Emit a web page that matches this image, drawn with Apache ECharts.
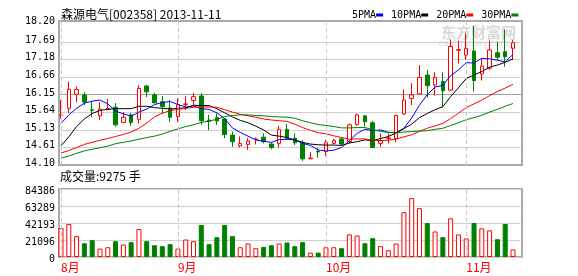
<!DOCTYPE html>
<html><head><meta charset="utf-8">
<script src="https://cdn.jsdelivr.net/npm/echarts@6/dist/echarts.min.js"></script>
<style>html,body{margin:0;padding:0;background:#fff}#c{width:578px;height:276px}</style>
</head><body><div id="c"></div>
<script>
const stockName = '森源电气';
const stockCode = '002358';
const chartDate = '2013-11-11';

const dates = [
 '2013-08-12','2013-08-13','2013-08-14','2013-08-15','2013-08-16','2013-08-19','2013-08-20','2013-08-21','2013-08-22','2013-08-23',
 '2013-08-26','2013-08-27','2013-08-28','2013-08-29','2013-08-30','2013-09-02','2013-09-03','2013-09-04','2013-09-05','2013-09-06',
 '2013-09-09','2013-09-10','2013-09-11','2013-09-12','2013-09-13','2013-09-16','2013-09-17','2013-09-18','2013-09-23','2013-09-24',
 '2013-09-25','2013-09-26','2013-09-27','2013-09-30','2013-10-08','2013-10-09','2013-10-10','2013-10-11','2013-10-14','2013-10-15',
 '2013-10-16','2013-10-17','2013-10-18','2013-10-21','2013-10-22','2013-10-23','2013-10-24','2013-10-25','2013-10-28','2013-10-29',
 '2013-10-30','2013-10-31','2013-11-01','2013-11-04','2013-11-05','2013-11-06','2013-11-07','2013-11-08','2013-11-11'
];
const open = [15.54,15.75,16.16,16.14,15.71,15.53,15.73,15.78,15.34,15.56,
 15.43,16.40,16.14,15.94,15.76,15.51,15.86,15.98,16.11,15.41,
 15.48,15.44,14.97,14.66,14.70,14.84,14.91,14.71,14.73,15.14,
 14.88,14.73,14.28,14.50,14.49,14.73,14.86,14.78,15.28,15.53,
 15.33,14.73,14.87,14.86,15.59,16.04,16.17,16.72,16.43,16.53,
 16.28,17.44,17.30,17.42,16.75,16.92,17.37,17.40,17.50];
const close = [15.55,16.31,16.30,15.93,15.69,15.73,15.75,15.27,15.49,15.34,
 16.33,16.23,15.91,15.80,15.49,15.85,15.88,16.09,15.39,15.37,
 15.38,14.99,14.78,14.73,14.80,14.86,14.78,14.61,15.14,14.88,
 14.75,14.28,14.30,14.48,14.76,14.81,14.71,15.27,15.56,15.36,
 14.61,14.81,14.89,15.54,15.99,16.14,16.65,16.41,16.65,16.26,
 17.55,17.46,17.50,16.56,16.98,17.45,17.24,17.25,17.66];
const low = [15.45,15.61,15.92,15.85,15.49,15.41,15.72,15.22,15.34,15.24,
 15.31,16.08,15.90,15.59,15.36,15.36,15.70,15.85,15.27,15.12,
 15.27,14.88,14.63,14.61,14.54,14.70,14.73,14.56,14.61,14.83,
 14.68,14.22,14.28,14.31,14.37,14.70,14.68,14.73,15.24,15.22,
 14.59,14.63,14.73,14.76,15.56,15.85,16.14,16.06,16.12,15.78,
 16.26,17.06,17.16,16.24,16.56,16.87,17.16,16.96,17.16];
const high = [15.99,16.53,16.38,16.22,15.96,15.93,16.02,15.90,15.64,15.61,
 16.43,16.43,16.20,16.11,15.99,16.04,16.11,16.19,16.19,15.56,
 15.60,15.46,15.07,14.93,14.88,14.90,15.02,14.75,15.24,15.29,
 15.02,14.83,14.47,14.59,14.83,14.86,14.90,15.31,15.60,15.56,
 15.38,15.02,15.02,15.56,16.30,16.48,17.01,16.87,16.80,16.80,
 17.76,17.72,17.94,18.15,17.21,17.72,17.69,18.05,17.74];
const volume = [35900,40900,25900,17100,20900,10400,12100,19600,15500,18400,
 34700,19600,14600,13400,15900,10400,21700,19600,39700,15900,
 24600,39700,25900,12100,16700,10900,12500,14600,16700,18000,
 13400,18400,5400,5400,12100,12100,10900,28000,26700,17100,
 23400,13400,8400,16700,55600,73100,60600,42200,31700,24600,
 48000,28000,23000,42200,35500,33000,22100,40900,9275];
const ma5 = [15.31,15.56,15.75,15.90,15.96,15.99,15.88,15.67,15.59,15.52,
 15.64,15.73,15.86,15.92,15.95,15.86,15.79,15.82,15.74,15.72,
 15.62,15.45,15.18,15.05,14.94,14.83,14.79,14.76,14.84,14.85,
 14.83,14.73,14.67,14.54,14.51,14.53,14.61,14.81,15.02,15.14,
 15.10,15.12,15.05,15.04,15.17,15.47,15.84,16.15,16.37,16.42,
 16.70,16.87,17.08,17.07,17.21,17.19,17.15,17.10,17.32];
const ma10 = [14.66,14.92,15.22,15.44,15.60,15.69,15.72,15.74,15.74,15.74,
 15.81,15.81,15.77,15.75,15.73,15.75,15.76,15.84,15.83,15.83,
 15.74,15.62,15.50,15.40,15.33,15.23,15.12,14.97,14.94,14.90,
 14.83,14.76,14.71,14.69,14.68,14.68,14.67,14.74,14.78,14.83,
 14.81,14.87,14.93,15.03,15.16,15.29,15.48,15.60,15.71,15.80,
 16.09,16.35,16.62,16.72,16.82,16.95,17.01,17.09,17.19];
const ma20 = [14.45,14.52,14.61,14.70,14.76,14.82,14.87,14.93,14.99,15.06,
 15.17,15.32,15.50,15.61,15.68,15.72,15.75,15.78,15.79,15.79,
 15.78,15.71,15.64,15.58,15.53,15.49,15.44,15.41,15.39,15.37,
 15.29,15.19,15.11,15.04,15.01,14.95,14.90,14.85,14.86,14.86,
 14.82,14.81,14.82,14.86,14.92,14.98,15.08,15.17,15.24,15.31,
 15.45,15.61,15.77,15.88,15.99,16.12,16.24,16.34,16.45];
const ma30 = [14.30,14.36,14.44,14.51,14.56,14.60,14.65,14.72,14.76,14.80,
 14.85,14.90,14.94,15.00,15.08,15.15,15.22,15.27,15.34,15.38,
 15.43,15.51,15.54,15.56,15.56,15.54,15.53,15.51,15.50,15.49,
 15.46,15.39,15.33,15.28,15.25,15.22,15.18,15.18,15.19,15.19,
 15.13,15.08,15.05,15.04,15.06,15.07,15.09,15.10,15.14,15.17,
 15.25,15.33,15.42,15.48,15.55,15.64,15.72,15.81,15.89];

const priceTickLabels = ['14.10','14.61','15.13','15.64','16.15','16.66','17.18','17.69','18.20'];
const volTickLabels = ['0','21096','42193','63289','84386'];
const maNames = ['5PMA','10PMA','20PMA','30PMA'];
const maColors = ['#0000ff','#000000','#ff0000','#008000'];
const maData = [ma5, ma10, ma20, ma30];

// layout constants
const priceMin = 14.10, priceStep = 0.5125, priceMax = 18.293;
const volStep = 21096.5, volMax = 84386;
const xMin = -0.257, xMax = 59.155;
const UP = '#ff0000', DOWN = '#008000';
const mono = '"DejaVu Sans Mono", monospace';
const cjk = '"Noto Sans CJK SC", sans-serif';

// month starts derived from dates
const monthStarts = [], monthLabels = [];
dates.forEach((d, i) => {
  const m = +d.slice(5, 7);
  if (i === 0 || m !== +dates[i - 1].slice(5, 7)) { monthStarts.push(i); monthLabels.push(m + '月'); }
});

const dashLine = {
  silent: true, symbol: ['none', 'none'], label: { show: false },
  lineStyle: { color: '#c8c8c8', type: [4, 3], width: 1 },
  emphasis: { disabled: true }, animation: false,
  data: monthStarts.map(i => ({ xAxis: i }))
};

const chart = echarts.init(document.getElementById('c'));
chart.setOption({
  animation: false,
  backgroundColor: '#fff',
  title: [
    { text: stockName + '[' + stockCode + '] ' + chartDate, left: 61, top: 8, padding: 0,
      textStyle: { fontSize: 12, fontWeight: 'normal', color: '#000', fontFamily: cjk } },
    { text: '成交量:' + volume[volume.length - 1] + ' 手', left: 60, top: 170, padding: 0,
      textStyle: { fontSize: 12, fontWeight: 'normal', color: '#000', fontFamily: cjk } }
  ],
  legend: {
    data: maNames, left: 347, top: 10, padding: 0, itemGap: 3, itemWidth: 0, itemHeight: 0,
    icon: 'rect', selectedMode: false,
    formatter: name => name + '{m' + maNames.indexOf(name) + '|}',
    textStyle: {
      fontFamily: mono, fontSize: 10, color: '#000',
      rich: {
        m0: { width: 7, height: 3, backgroundColor: maColors[0] },
        m1: { width: 7, height: 3, backgroundColor: maColors[1] },
        m2: { width: 7, height: 3, backgroundColor: maColors[2] },
        m3: { width: 7, height: 3, backgroundColor: maColors[3] }
      }
    }
  },
  graphic: [
    { type: 'text', left: 441, top: 25, silent: true, z: 0,
      style: { text: '东方财富网', font: 'bold 15px "Noto Sans CJK SC"', fill: 'rgba(185,185,185,0.55)' } },
    { type: 'text', left: 438, top: 39, silent: true, z: 0,
      style: { text: 'eastmoney.com', font: '9px "DejaVu Sans"', fill: 'rgba(185,185,185,0.55)' } }
  ],
  grid: [
    { left: 59, top: 21, width: 463, height: 144, show: true, borderColor: '#aaa', borderWidth: 2, backgroundColor: 'transparent' },
    { left: 59, top: 189, width: 463, height: 68, show: true, borderColor: '#aaa', borderWidth: 2, backgroundColor: 'transparent' }
  ],
  xAxis: [
    { type: 'value', gridIndex: 0, min: xMin, max: xMax, axisLine: { show: false }, axisTick: { show: false },
      axisLabel: { show: false }, splitLine: { show: false } },
    { type: 'value', gridIndex: 1, min: xMin, max: xMax, axisLine: { show: false }, axisTick: { show: false },
      splitLine: { show: false },
      axisLabel: { show: true, customValues: monthStarts, align: 'left', margin: 4, color: '#ff0000',
        fontSize: 12, fontFamily: cjk,
        formatter: v => { const k = monthStarts.indexOf(Math.round(v)); return k >= 0 ? monthLabels[k] : ''; } } }
  ],
  yAxis: [
    { type: 'value', gridIndex: 0, min: priceMin, max: priceMax, interval: priceStep,
      axisLine: { show: false }, axisTick: { show: false },
      axisLabel: { color: '#000', fontFamily: mono, fontSize: 10, margin: 4, showMaxLabel: true, showMinLabel: true,
        formatter: v => {
          if (v > priceMin + 8 * priceStep + 0.02) return '{t|' + priceTickLabels[8] + '}';
          const k = Math.round((v - priceMin) / priceStep);
          return k === 8 ? '' : '{p|' + priceTickLabels[k] + '}';
        },
        rich: { p: { fontFamily: mono, fontSize: 10, color: '#000', padding: [0, 0, 3, 0] },
                t: { fontFamily: mono, fontSize: 10, color: '#000', padding: [1, 0, 0, 0] } } },
      splitLine: { show: true, lineStyle: { width: 1,
        color: ['#aaa', '#d0d0d0', '#d0d0d0', '#d0d0d0', '#a0a0a0', '#d0d0d0', '#d0d0d0', '#d0d0d0', 'rgba(0,0,0,0)', '#aaa'] } } },
    { type: 'value', gridIndex: 1, min: 0, max: volMax, interval: volStep,
      axisLine: { show: false }, axisTick: { show: false },
      axisLabel: { color: '#000', fontFamily: mono, fontSize: 10, margin: 4, showMaxLabel: true, showMinLabel: true,
        formatter: v => '{v|' + volTickLabels[Math.round(v / volStep)] + '}',
        rich: { v: { fontFamily: mono, fontSize: 10, color: '#000', padding: [5, 0, 0, 0] } } },
      splitLine: { show: true, lineStyle: { width: 1, color: '#d0d0d0' } } }
  ],
  series: [
    { type: 'candlestick', name: 'K', xAxisIndex: 0, yAxisIndex: 0, barWidth: 4, z: 2,
      itemStyle: { color: '#fff', color0: DOWN, borderColor: UP, borderColor0: DOWN, borderWidth: 1 },
      data: dates.map((d, i) => [i, open[i], close[i], low[i], high[i]]),
      markLine: dashLine },
    ...maNames.map((n, k) => ({
      type: 'line', name: n, xAxisIndex: 0, yAxisIndex: 0, symbol: 'none', showSymbol: false, z: 3,
      lineStyle: { width: 1, color: maColors[k] }, itemStyle: { color: maColors[k] },
      data: maData[k].map((v, i) => [i, v])
    })),
    { type: 'bar', name: 'VOL', xAxisIndex: 1, yAxisIndex: 1, barWidth: 5,
      data: volume.map((v, i) => ({ value: [i, v],
        itemStyle: close[i] >= open[i]
          ? { color: '#fff', borderColor: UP, borderWidth: 1 }
          : { color: DOWN, borderColor: DOWN, borderWidth: 1 } })),
      markLine: dashLine }
  ]
});
</script></body></html>
